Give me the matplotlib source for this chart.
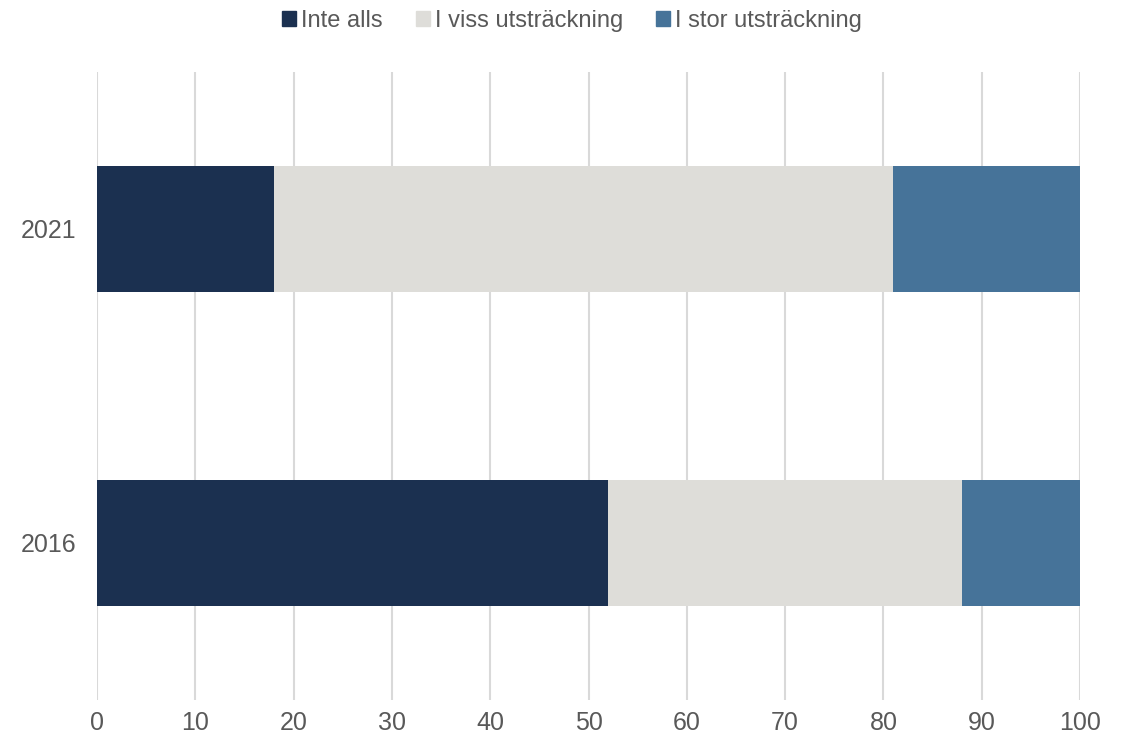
import matplotlib
matplotlib.use("Agg")
import matplotlib.pyplot as plt
from matplotlib.patches import Patch
import numpy as np

years = ["2016", "2021"]
series_names = ["Inte alls", "I viss utsträckning", "I stor utsträckning"]
inte_alls = [52, 18]
viss = [36, 63]
stor = [12, 19]
colors = ["#1B3050", "#DEDDD9", "#467399"]
xticks = [0, 10, 20, 30, 40, 50, 60, 70, 80, 90, 100]

plt.rcParams['font.family'] = ['Liberation Sans', 'DejaVu Sans']

fig = plt.figure(figsize=(11.22, 7.37), dpi=100)
ax = fig.add_axes([97/1122, 1-700/737, (1080-97)/1122, (700-72)/737])

y = np.arange(len(years))
left = np.zeros(len(years))
for vals, c, name in zip([inte_alls, viss, stor], colors, series_names):
    ax.barh(y, vals, left=left, height=0.4, color=c, label=name, zorder=3)
    left += np.array(vals)

ax.set_xlim(0, 100)
ax.set_ylim(-0.5, 1.5)
ax.set_xticks(xticks)
ax.set_yticks(y)
ax.set_yticklabels(years)
ax.grid(axis='x', color='#D9D9D9', linewidth=1.5, zorder=0)
for s in ax.spines.values():
    s.set_visible(False)
ax.tick_params(axis='both', length=0, labelsize=18, colors='#595959')
ax.tick_params(axis='x', pad=8)
ax.tick_params(axis='y', pad=15)

handles = [Patch(color=c, label=n) for c, n in zip(colors, series_names)]
fig.legend(handles=handles, loc='center', bbox_to_anchor=(572/1122, 1-21/737), ncol=3,
           frameon=False, fontsize=17, labelcolor='#595959', handlelength=0.6,
           handleheight=0.6, handletextpad=0.2, columnspacing=1.4)

fig.savefig("out.png", dpi=100)
